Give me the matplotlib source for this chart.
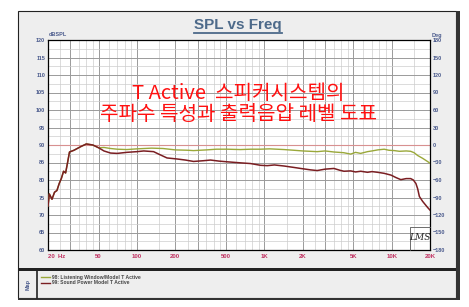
import matplotlib
matplotlib.use("Agg")
import matplotlib.pyplot as plt
from matplotlib.patches import Rectangle
from matplotlib.lines import Line2D
import numpy as np

# ---------------- data ----------------
low_freq = [20, 20.5, 21.5, 22.5, 23.5, 24.5, 25.5, 26.5, 27.5, 28.5, 29.5, 32, 36, 40, 45, 50]
low_spl = [72.6, 76.0, 74.5, 76.5, 77.0, 79.0, 80.5, 82.5, 82.0, 85.0, 88.0, 88.5, 89.5, 90.3, 90.0, 89.2]

sp_freq = [55, 62, 70, 83, 100, 113, 135, 150, 172, 207, 240, 278, 330, 378, 440, 510, 650, 780,
           934, 1054, 1200, 1426, 1700, 1928, 2300, 2600, 3000, 3520, 3900, 4220, 4770, 5200, 5720,
           6460, 7000, 7760, 8740, 9880, 10800, 11800, 13000, 14100, 14800, 15500, 16000, 16500,
           17500, 19100, 20000]
sp_spl = [88.3, 87.7, 87.6, 87.9, 88.1, 88.3, 88.1, 87.3, 86.3, 86.0, 85.7, 85.3, 85.5, 85.7, 85.4,
          85.2, 84.9, 84.7, 84.2, 84.1, 84.3, 84.0, 83.6, 83.3, 82.9, 82.7, 83.1, 83.3, 82.8, 82.5,
          82.6, 82.3, 82.5, 82.2, 82.4, 82.2, 81.9, 81.4, 80.7, 80.1, 80.4, 80.4, 80.0, 79.0, 77.5,
          75.3, 73.9, 72.2, 71.4]

lw_freq = [55, 62, 70, 83, 100, 130, 160, 200, 250, 278, 350, 420, 510, 650, 780, 934, 1100, 1426,
           1700, 2000, 2600, 3000, 3520, 4200, 4770, 5200, 5700, 6460, 7000, 7760, 8740, 9500,
           10500, 11500, 13000, 14100, 15000, 16000, 17500, 19100, 20000]
lw_spl = [89.3, 89.0, 88.8, 88.7, 88.9, 89.1, 89.0, 88.6, 88.5, 88.4, 88.6, 88.8, 88.8, 88.7, 88.8,
          88.8, 88.9, 88.7, 88.5, 88.3, 88.1, 88.3, 88.0, 87.8, 87.4, 87.9, 87.6, 88.1, 88.3, 88.6,
          88.8, 88.5, 88.4, 88.2, 88.3, 88.2, 87.8, 87.0, 86.2, 85.3, 84.8]

x_ticks = [20, 50, 100, 200, 500, 1000, 2000, 5000, 10000, 20000]
x_labels = ["20  Hz", "50", "100", "200", "500", "1K", "2K", "5K", "10K", "20K"]
y_ticks = list(range(60, 121, 5))
deg_ticks = list(range(-180, 181, 30))

legend_labels = ["98: Listening Window/Model T Active", "99: Sound Power Model T Active"]
title = "SPL vs Freq"
annot = "T Active  스피커시스템의\n주파수 특성과 출력음압 레벨 도표"

# ---------------- figure ----------------
W, H = 469, 307
fig = plt.figure(figsize=(W / 100, H / 100), dpi=100)
fig.patch.set_facecolor("white")

def fx(x):
    return x / W

def fy(y):
    return 1 - y / H

def frect(x0, y0, x1, y1, **kw):
    fig.patches.append(Rectangle((fx(x0), fy(y1)), fx(x1) - fx(x0), fy(y0) - fy(y1),
                                 transform=fig.transFigure, zorder=-5, **kw))

# outer panel
frect(18, 11, 456, 298, facecolor="#eeeeee", edgecolor="#222222", lw=0.8)
frect(456, 11, 460, 300, facecolor="#333333", edgecolor="none")
frect(18, 298, 460, 300, facecolor="#333333", edgecolor="none")
frect(18, 268, 456, 271, facecolor="#222222", edgecolor="none")
fig.lines.append(Line2D([fx(37), fx(37)], [fy(271), fy(298)], transform=fig.transFigure,
                        color="#222222", lw=1.2))

# title
fig.text(fx(238), fy(25), title, ha="center", va="center", fontsize=11, fontweight="bold",
         color="#4d6a8a", family="Liberation Sans")
fig.lines.append(Line2D([fx(194), fx(282)], [fy(33), fy(33)], transform=fig.transFigure,
                        color="#4d6a8a", lw=1.3))

# main axes
ax = fig.add_axes([fx(48), fy(250), fx(430) - fx(48), fy(40) - fy(250)])
ax.set_facecolor("white")
ax.set_xscale("log")
ax.set_xlim(20, 20000)
ax.set_ylim(60, 120)

# grid
for dec in [10, 100, 1000, 10000]:
    for m in [1, 1.5, 2, 2.5, 3, 3.5, 4, 4.5, 5, 6, 7, 8, 9]:
        f = m * dec
        if f <= 20 or f >= 20000:
            continue
        major = m in (1, 2, 3, 5)
        ax.axvline(f, color="#9a9a9a" if major else "#cdcdcd", lw=0.7 if major else 0.5, zorder=1)
for v in np.arange(62.5, 120, 2.5):
    major = (v % 5 == 0)
    ax.axhline(v, color="#9a9a9a" if major else "#cdcdcd", lw=0.7 if major else 0.5, zorder=1)

ax.axhline(90, color="#d89090", lw=0.8, zorder=2)

# curves
green = "#9aa83a"
red = "#7a1e22"
ax.plot(low_freq + lw_freq, low_spl + lw_spl, color=green, lw=1.0, zorder=3)
ax.plot(low_freq + sp_freq, low_spl + sp_spl, color=red, lw=1.1, zorder=4)

for s in ax.spines.values():
    s.set_color("black")
    s.set_linewidth(0.9)

ax.set_xticks(x_ticks)
ax.set_xticklabels(x_labels)
ax.xaxis.set_minor_locator(matplotlib.ticker.NullLocator())
ax.set_yticks(y_ticks)
ax.tick_params(axis="both", length=0, pad=2)
for lab in ax.get_xticklabels():
    lab.set_fontsize(4.3)
    lab.set_fontweight("bold")
    lab.set_color("#c03060")
    lab.set_family("Liberation Sans")
ax.get_xticklabels()[0].set_horizontalalignment("left")
for lab in ax.get_yticklabels():
    lab.set_fontsize(4.0)
    lab.set_fontweight("bold")
    lab.set_color("#4a5a8c")
    lab.set_family("Liberation Sans")
ax.tick_params(axis="x", pad=3)

ax2 = ax.twinx()
ax2.set_ylim(-180, 180)
ax2.set_yticks(deg_ticks)
ax2.tick_params(axis="y", length=0, pad=2)
for lab in ax2.get_yticklabels():
    lab.set_fontsize(4.0)
    lab.set_fontweight("bold")
    lab.set_color("#4a5a8c")
    lab.set_family("Liberation Sans")
for s in ax2.spines.values():
    s.set_visible(False)

fig.text(fx(49), fy(35), "dBSPL", fontsize=4.0, fontweight="bold", color="#4a5a8c",
         family="Liberation Sans", ha="left", va="center")
fig.text(fx(437), fy(35), "Deg", fontsize=4.0, fontweight="bold", color="#4a5a8c",
         family="Liberation Sans", ha="center", va="center")

# Korean annotation
fig.text(fx(238), fy(104), annot, ha="center", va="center", fontsize=14.5, color="#ff1010",
         family=["Noto Sans CJK KR", "DejaVu Sans"], fontweight=300, linespacing=1.05, zorder=10)

# LMS logo
fig.lines.append(Line2D([fx(410), fx(410), fx(430)], [fy(250), fy(227), fy(227)],
                        transform=fig.transFigure, color="#555555", lw=0.6, zorder=10))
fig.text(fx(420), fy(238), "LMS", ha="center", va="center", fontsize=6.5, style="italic",
         color="#222222", family="DejaVu Serif", zorder=10)

# legend panel
fig.text(fx(28), fy(284), "Map", rotation=90, ha="center", va="center", fontsize=4.0,
         fontweight="bold", color="#4a5a8c", family="Liberation Sans")
fig.lines.append(Line2D([fx(41), fx(50)], [fy(277), fy(277)], transform=fig.transFigure,
                        color=green, lw=1.0))
fig.lines.append(Line2D([fx(41), fx(50)], [fy(283), fy(283)], transform=fig.transFigure,
                        color=red, lw=1.0))
fig.text(fx(52), fy(277), legend_labels[0], ha="left", va="center", fontsize=3.6,
         color="#444444", family="Liberation Sans", fontweight="bold")
fig.text(fx(52), fy(283), legend_labels[1], ha="left", va="center", fontsize=3.6,
         color="#444444", family="Liberation Sans", fontweight="bold")

fig.savefig("out.png", dpi=100, facecolor="white")
